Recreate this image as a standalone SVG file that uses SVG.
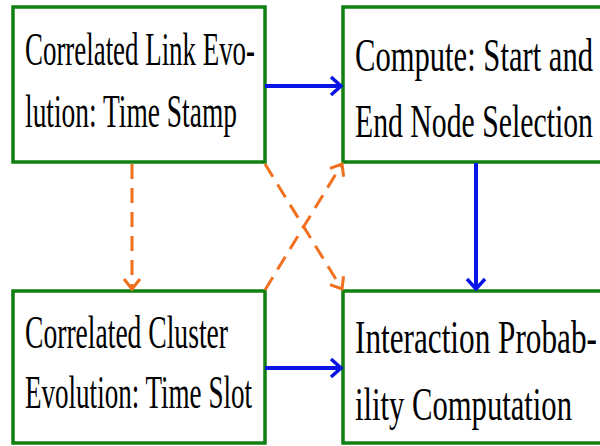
<svg xmlns="http://www.w3.org/2000/svg" width="600" height="446" viewBox="0 0 600 446">
<defs>
<style>
.box{fill:#fff;stroke:#118011;stroke-width:3.5}
.t{font-family:"Liberation Serif","DejaVu Serif",serif;font-size:46px;fill:#000}
.blue{stroke:#0a14e6;stroke-width:4;fill:none}
.orange{stroke:#f0701e;stroke-width:3;fill:none;stroke-dasharray:15 9}
</style>
<marker id="ab" markerUnits="userSpaceOnUse" markerWidth="16" markerHeight="22" refX="13" refY="11" orient="auto">
<path d="M3,2 L13,11 L3,20" fill="none" stroke="#0a14e6" stroke-width="3.5"/>
</marker>
<marker id="ao" markerUnits="userSpaceOnUse" markerWidth="16" markerHeight="20" refX="13" refY="10" orient="auto">
<path d="M3,2 L13,10 L3,18" fill="none" stroke="#f0701e" stroke-width="3"/>
</marker>
</defs>
<rect width="600" height="446" fill="#fff"/>
<g id="n1">
<rect class="box" x="13" y="7" width="252" height="155"/>
<text class="t" x="25" y="65" textLength="230" lengthAdjust="spacingAndGlyphs">Correlated Link Evo-</text>
<text class="t" x="25" y="127" textLength="212" lengthAdjust="spacingAndGlyphs">lution: Time Stamp</text>
</g>
<g id="n2">
<rect class="box" x="343" y="7" width="270" height="155"/>
<text class="t" x="355" y="71" textLength="238" lengthAdjust="spacingAndGlyphs">Compute: Start and</text>
<text class="t" x="355" y="137" textLength="238" lengthAdjust="spacingAndGlyphs">End Node Selection</text>
</g>
<g id="n3">
<rect class="box" x="13" y="291" width="252" height="152"/>
<text class="t" x="25" y="348" textLength="203" lengthAdjust="spacingAndGlyphs">Correlated Cluster</text>
<text class="t" x="25" y="408" textLength="227" lengthAdjust="spacingAndGlyphs">Evolution: Time Slot</text>
</g>
<g id="n4">
<rect class="box" x="343" y="291" width="270" height="152"/>
<text class="t" x="355" y="353" textLength="242" lengthAdjust="spacingAndGlyphs">Interaction Probab-</text>
<text class="t" x="355" y="420" textLength="217" lengthAdjust="spacingAndGlyphs">ility Computation</text>
</g>
<g id="connectors">
<line class="blue" x1="265" y1="86" x2="341" y2="86" marker-end="url(#ab)"/>
<line class="blue" x1="476" y1="163" x2="476" y2="289" marker-end="url(#ab)"/>
<line class="blue" x1="265" y1="368" x2="341" y2="368" marker-end="url(#ab)"/>
<line class="orange" x1="132" y1="164" x2="132" y2="289" marker-end="url(#ao)"/>
<line class="orange" x1="265" y1="164" x2="342" y2="289" marker-end="url(#ao)"/>
<line class="orange" x1="265" y1="290" x2="342" y2="164" marker-end="url(#ao)"/>
</g>
</svg>
